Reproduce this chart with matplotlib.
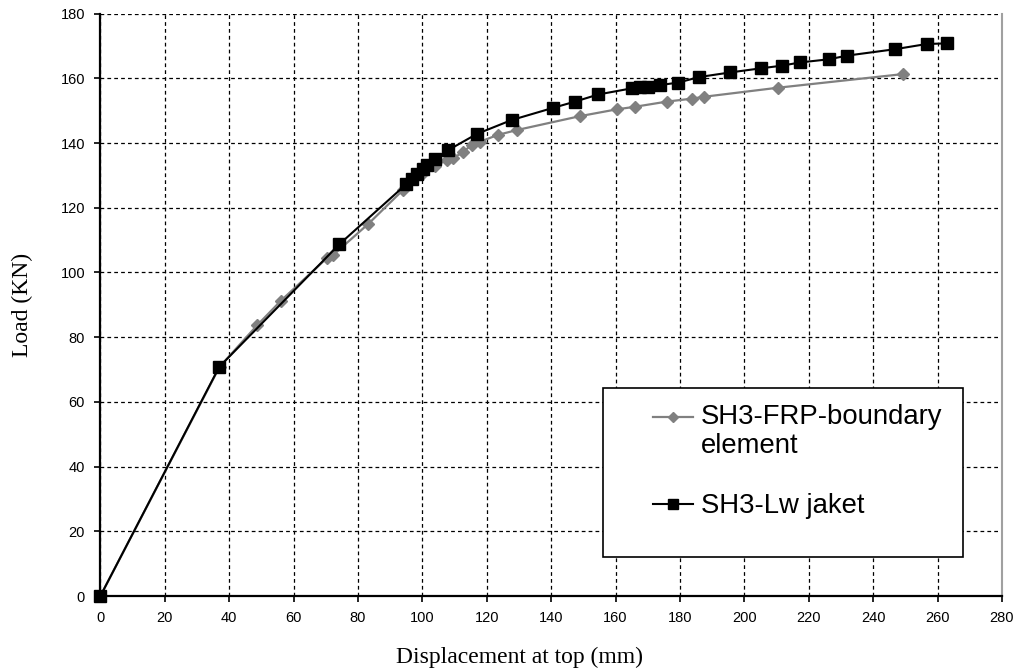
import numpy as np
import matplotlib
matplotlib.use('Agg')
import matplotlib.pyplot as plt
from matplotlib.legend_handler import HandlerLine2D
from matplotlib.patches import Rectangle

# SH3-FRP-boundary element (grey diamonds)
frp_x = [0, 37, 48.7, 56.1, 70.3, 72.3, 83.2, 94, 100, 104, 107.6, 109.6, 112.7,
         115.3, 117.9, 123.4, 129.3, 148.9, 160.3, 166, 175.9, 183.6, 187.5, 210.5, 249.2]
frp_y = [0, 70.8, 83.7, 91.3, 104.4, 105.4, 115.0, 125.5, 130.5, 133.0, 134.7, 135.3, 137.3,
         139.4, 140.4, 142.5, 144.0, 148.3, 150.4, 151.2, 152.8, 153.7, 154.3, 157.1, 161.3]

# SH3-Lw jaket (black squares)
jak_x = [0, 36.9, 74.2, 94.9, 96.7, 98.2, 100.1, 101.5, 104.0, 108, 116.9, 127.7, 140.7,
         147.4, 154.6, 165, 167.6, 170.2, 173.8, 179.5, 186, 195.5, 205.2, 211.6, 217.3,
         226.4, 231.8, 246.8, 256.6, 262.8]
jak_y = [0, 70.8, 108.7, 127.2, 128.9, 130.5, 132.0, 133.2, 135.0, 137.8, 142.8, 147.1, 150.9,
         152.8, 155.0, 156.9, 157.2, 157.4, 157.9, 158.7, 160.4, 161.8, 163.1, 163.9, 164.9,
         165.9, 167.0, 169.0, 170.6, 170.8]

labels = ['SH3-FRP-boundary\nelement', 'SH3-Lw jaket']
xticks = np.arange(0, 281, 20)
yticks = np.arange(0, 181, 20)

W, H = 1019, 672
fig = plt.figure(figsize=(W / 100, H / 100), dpi=100)
ax = fig.add_axes([100.4 / W, 1 - 596 / H, (1002 - 100.4) / W, (596 - 13.6) / H])

l1, = ax.plot(frp_x, frp_y, color='#808080', lw=1.6, marker='D', ms=6.3,
              mfc='#808080', mec='#808080', zorder=3, clip_on=False)
l2, = ax.plot(jak_x, jak_y, color='black', lw=1.5, marker='s', ms=8.8,
              mfc='black', mec='black', zorder=4, clip_on=False)

ax.set_xlim(0, 280)
ax.set_ylim(0, 180)
ax.set_xticks(xticks)
ax.set_yticks(yticks)
ax.grid(True, color='black', linestyle=(0, (3, 2.5)), linewidth=0.9)
ax.set_axisbelow(True)

for s in ['left', 'bottom']:
    ax.spines[s].set_linewidth(1.6)
ax.spines['top'].set_visible(False)
ax.spines['right'].set_color('#a0a0a0')
ax.spines['right'].set_linewidth(1.5)

ax.tick_params(axis='both', direction='out', length=4, width=1.2, labelsize=10.5, pad=7)
for t in ax.get_xticklabels() + ax.get_yticklabels():
    t.set_family('Liberation Sans')

fig.text(520 / W, 1 - 657 / H, 'Displacement at top (mm)', family='Liberation Serif',
         fontsize=17, ha='center', va='center')
fig.text(22 / W, 1 - 305 / H, 'Load (KN)', family='Liberation Serif',
         fontsize=17, ha='center', va='center', rotation=90)

# legend frame (white box covering the grid)
fig.patches.append(Rectangle((603 / W, 1 - 557 / H), (963 - 603) / W, (557 - 388) / H,
                             transform=fig.transFigure, fc='white', ec='black', lw=1.2,
                             zorder=4))


class TopHandler(HandlerLine2D):
    def __init__(self, shift=0, **kw):
        super().__init__(**kw)
        self.shift = shift

    def create_artists(self, legend, orig_handle, xdescent, ydescent, width, height, fontsize, trans):
        return super().create_artists(legend, orig_handle, xdescent, ydescent - 2 * self.shift,
                                      width, height, fontsize, trans)


leg = fig.legend([l1, l2], labels, loc='upper left',
                 bbox_to_anchor=(653 / W, 1 - 404 / H), frameon=False,
                 prop={'family': 'Liberation Sans', 'size': 19.8},
                 handlelength=1.45, handletextpad=0.3, labelspacing=1.25,
                 borderpad=0, borderaxespad=0, numpoints=1,
                 handler_map={l1: TopHandler(shift=11), l2: HandlerLine2D()})
leg.set_zorder(5)
leg.get_texts()[0].set_linespacing(1.15)
for h in leg.legend_handles:
    h.set_markersize(h.get_markersize() * 0.8)

fig.savefig('out.png', dpi=100)
